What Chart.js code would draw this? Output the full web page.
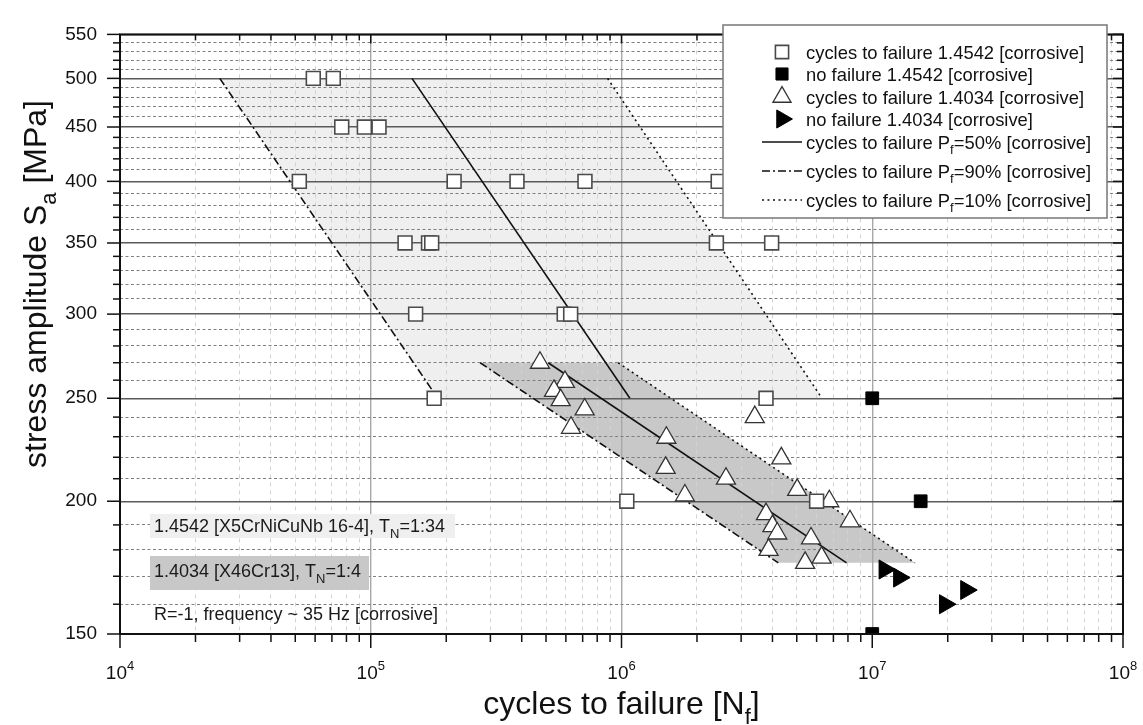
<!DOCTYPE html>
<html>
<head>
<meta charset="utf-8">
<title>S-N curve corrosive</title>
<script src="https://cdn.jsdelivr.net/npm/chart.js@4.4.1/dist/chart.umd.min.js"></script>
<style>
  html, body { margin: 0; padding: 0; background: #fff; }
</style>
</head>
<body>
<canvas id="snChart" width="1143" height="725"></canvas>
<script>
const FONT = '"Liberation Sans", Arial, sans-serif';

// 1.4542 - cycles to failure
const fail4542N = [59000, 70900, 76600, 94300, 107900, 51900, 215000, 383000, 715000, 2430000,
  137000, 170000, 175000, 2390000, 3970000, 151000, 591000, 627000, 179000, 3770000, 1050000, 6000000];
const fail4542S = [500, 500, 450, 450, 450, 400, 400, 400, 400, 400,
  350, 350, 350, 350, 350, 300, 300, 300, 250, 250, 200, 200];
// 1.4542 - run-outs
const runout4542N = [10000000, 15600000, 10000000];
const runout4542S = [250, 200, 150];

// 1.4034 - cycles to failure
const fail4034N = [473000, 595000, 538000, 572000, 713000, 629000, 1510000, 1500000, 1790000, 2610000, 3400000,
  4340000, 5020000, 6740000, 8150000, 3770000, 4000000, 4180000, 3860000, 5700000, 6280000, 5400000];
const fail4034S = [270, 259, 254, 249, 244, 234.5, 229.5, 215, 202.5, 210, 240,
  219.5, 205, 200, 191.5, 194.5, 189.5, 186.5, 180, 184.5, 177, 175];
// 1.4034 - run-outs
const runout4034N = [11200000, 12800000, 19500000, 23700000];
const runout4034S = [172.5, 169.5, 160, 165];

// S-N lines, N at [upper, lower] stress
const lineS4542 = [500, 250];
const p50N4542 = [146000, 1080000];
const p90N4542 = [25000, 185000];
const p10N4542 = [880000, 6300000];
const lineS4034 = [270, 175];
const p50N4034 = [510000, 7900000];
const p90N4034 = [273000, 4220000];
const p10N4034 = [970000, 14800000];

// axes
const xTickValues = [1e4, 2e4, 3e4, 4e4, 5e4, 6e4, 7e4, 8e4, 9e4,
  1e5, 2e5, 3e5, 4e5, 5e5, 6e5, 7e5, 8e5, 9e5,
  1e6, 2e6, 3e6, 4e6, 5e6, 6e6, 7e6, 8e6, 9e6,
  1e7, 2e7, 3e7, 4e7, 5e7, 6e7, 7e7, 8e7, 9e7, 1e8];
const xMajorValues = [1e4, 1e5, 1e6, 1e7, 1e8];
const xMajorLabels = ['10^{4}', '10^{5}', '10^{6}', '10^{7}', '10^{8}'];
const yTickValues = [150, 160, 170, 180, 190, 200, 210, 220, 230, 240, 250, 260, 270, 280, 290, 300,
  310, 320, 330, 340, 350, 360, 370, 380, 390, 400, 410, 420, 430, 440, 450, 460, 470, 480, 490, 500,
  510, 520, 530, 540, 550];
const yMajorValues = [150, 200, 250, 300, 350, 400, 450, 500, 550];
const yMajorLabels = ['150', '200', '250', '300', '350', '400', '450', '500', '550'];

const legendLabels = [
  'cycles to failure 1.4542 [corrosive]',
  'no failure 1.4542 [corrosive]',
  'cycles to failure 1.4034 [corrosive]',
  'no failure 1.4034 [corrosive]',
  'cycles to failure P_{f}=50% [corrosive]',
  'cycles to failure P_{f}=90% [corrosive]',
  'cycles to failure P_{f}=10% [corrosive]'
];
const noteLabels = [
  '1.4542 [X5CrNiCuNb 16-4], T_{N}=1:34',
  '1.4034 [X46Cr13], T_{N}=1:4',
  'R=-1, frequency ~ 35 Hz [corrosive]'
];
const xTitle = 'cycles to failure [N_{f}]';
const yTitle = 'stress amplitude S_{a} [MPa]';

const pts = (xs, ys) => xs.map((v, i) => ({ x: v, y: ys[i] }));
const band = (lo, hi, s) => pts([lo[0], hi[0], hi[1], lo[1], lo[0]], [s[0], s[0], s[1], s[1], s[0]]);

const DASH_DOT = [8, 3, 2, 3];
const DOTTED = [2, 3.5];

function lineSet(label, xs, s, dash) {
  return {
    label: label, data: pts(xs, s), showLine: true, fill: false,
    borderColor: '#111', borderWidth: 1.6, borderDash: dash,
    pointRadius: 0, pointHoverRadius: 0, order: 1
  };
}

const datasets = [
  { label: 'band 1.4034', data: band(p90N4034, p10N4034, lineS4034), showLine: true, fill: 'shape',
    backgroundColor: '#c8c8c8', borderColor: 'transparent', borderWidth: 0, pointRadius: 0, order: 2 },
  { label: 'band 1.4542', data: band(p90N4542, p10N4542, lineS4542), showLine: true, fill: 'shape',
    backgroundColor: '#efefef', borderColor: 'transparent', borderWidth: 0, pointRadius: 0, order: 3 },
  lineSet(legendLabels[4], p50N4542, lineS4542, []),
  lineSet(legendLabels[5], p90N4542, lineS4542, DASH_DOT),
  lineSet(legendLabels[6], p10N4542, lineS4542, DOTTED),
  lineSet('', p50N4034, lineS4034, []),
  lineSet('', p90N4034, lineS4034, DASH_DOT),
  lineSet('', p10N4034, lineS4034, DOTTED),
  { label: legendLabels[0], data: pts(fail4542N, fail4542S), pointStyle: 'rect', pointRadius: 9.8,
    backgroundColor: '#fff', borderColor: '#4a4a4a', borderWidth: 1.6, order: 0 },
  { label: legendLabels[1], data: pts(runout4542N, runout4542S), pointStyle: 'rect', pointRadius: 9,
    backgroundColor: '#000', borderColor: '#000', borderWidth: 1, order: 0 },
  { label: legendLabels[2], data: pts(fail4034N, fail4034S), pointStyle: 'triangle', pointRadius: 11,
    backgroundColor: '#fff', borderColor: '#333', borderWidth: 1.3, order: 0 },
  { label: legendLabels[3], data: pts(runout4034N, runout4034S), pointStyle: 'triangle', pointRadius: 11,
    pointRotation: 90, backgroundColor: '#000', borderColor: '#000', borderWidth: 1, order: 0 }
];

// text with _{sub} and ^{sup}
function richParts(text) {
  const parts = [];
  const re = /([_^])\{([^}]*)\}/g;
  let last = 0, m;
  while ((m = re.exec(text))) {
    if (m.index > last) parts.push({ t: text.slice(last, m.index), k: '' });
    parts.push({ t: m[2], k: m[1] });
    last = re.lastIndex;
  }
  if (last < text.length) parts.push({ t: text.slice(last), k: '' });
  return parts;
}

function drawRich(ctx, text, x, y, size, align) {
  const parts = richParts(text);
  const small = Math.round(size * 0.7);
  let w = 0;
  parts.forEach(p => {
    ctx.font = (p.k ? small : size) + 'px ' + FONT;
    p.w = ctx.measureText(p.t).width;
    w += p.w;
  });
  let cx = align === 'center' ? x - w / 2 : (align === 'right' ? x - w : x);
  ctx.textAlign = 'left';
  ctx.textBaseline = 'alphabetic';
  parts.forEach(p => {
    ctx.font = (p.k ? small : size) + 'px ' + FONT;
    const dy = p.k === '_' ? size * 0.32 : (p.k === '^' ? -size * 0.45 : 0);
    ctx.fillText(p.t, cx, y + dy);
    cx += p.w;
  });
  return w;
}

const decor = {
  id: 'decor',
  afterDraw(chart) {
    const { ctx, chartArea: a, scales: { x, y } } = chart;
    ctx.save();
    const seg = (x1, y1, x2, y2) => { ctx.beginPath(); ctx.moveTo(x1, y1); ctx.lineTo(x2, y2); ctx.stroke(); };

    // annotation boxes
    ctx.fillStyle = '#efefef';
    ctx.fillRect(150, 514, 305, 24);
    ctx.fillStyle = '#c8c8c8';
    ctx.fillRect(150, 556, 219, 34);
    ctx.fillStyle = '#1a1a1a';
    drawRich(ctx, noteLabels[0], 154, 532, 18, 'left');
    drawRich(ctx, noteLabels[1], 154, 577, 18, 'left');
    drawRich(ctx, noteLabels[2], 154, 620, 18, 'left');

    // frame
    ctx.strokeStyle = '#111';
    ctx.lineWidth = 2;
    ctx.strokeRect(a.left, a.top, a.right - a.left, a.bottom - a.top);

    // tick marks
    ctx.lineWidth = 1.5;
    xTickValues.forEach(v => {
      const px = x.getPixelForValue(v);
      const major = xMajorValues.includes(v);
      seg(px, a.bottom, px, a.bottom + (major ? 14 : 8));
      seg(px, a.top, px, a.top + (major ? 9 : 6));
    });
    yTickValues.forEach(v => {
      const py = y.getPixelForValue(v);
      const major = yMajorValues.includes(v);
      seg(a.left - (major ? 13 : 7), py, a.left, py);
      seg(a.right - (major ? 10 : 6), py, a.right, py);
    });

    // x tick labels
    ctx.fillStyle = '#111';
    xMajorValues.forEach((v, i) => {
      drawRich(ctx, xMajorLabels[i], x.getPixelForValue(v), 679, 19, 'center');
    });

    // axis titles
    drawRich(ctx, xTitle, (a.left + a.right) / 2, 714, 32, 'center');
    ctx.save();
    ctx.translate(46, 284);
    ctx.rotate(-Math.PI / 2);
    drawRich(ctx, yTitle, 0, 0, 32, 'center');
    ctx.restore();

    // legend
    ctx.fillStyle = '#fff';
    ctx.fillRect(723, 25, 384, 193);
    ctx.strokeStyle = '#777';
    ctx.lineWidth = 1.5;
    ctx.strokeRect(723, 25, 384, 193);
    const rows = [52, 74, 97, 119, 142, 171, 200];
    const markerSets = [8, 9, 10, 11];
    const lineSets = [2, 3, 4];
    rows.forEach((ry, i) => {
      if (i < 4) {
        const ds = chart.data.datasets[markerSets[i]];
        ctx.fillStyle = ds.backgroundColor;
        ctx.strokeStyle = ds.borderColor;
        ctx.lineWidth = ds.borderWidth;
        ctx.setLineDash([]);
        Chart.helpers.drawPoint(ctx, {
          pointStyle: ds.pointStyle, radius: ds.pointRadius * 0.95,
          rotation: ds.pointRotation || 0, borderWidth: ds.borderWidth
        }, 782, ry);
      } else {
        const ds = chart.data.datasets[lineSets[i - 4]];
        ctx.strokeStyle = ds.borderColor;
        ctx.lineWidth = ds.borderWidth;
        ctx.setLineDash(ds.borderDash);
        seg(762, ry, 802, ry);
        ctx.setLineDash([]);
      }
      ctx.fillStyle = '#111';
      drawRich(ctx, legendLabels[i], 806, ry + 6.5, 18.4, 'left');
    });
    ctx.restore();
  }
};

new Chart(document.getElementById('snChart').getContext('2d'), {
  type: 'scatter',
  data: { datasets: datasets },
  options: {
    responsive: false,
    animation: false,
    events: [],
    layout: { padding: { top: 16, right: 20, left: 0, bottom: 0 } },
    plugins: {
      legend: { display: false },
      tooltip: { enabled: false },
      filler: { propagate: false, drawTime: 'beforeDraw' }
    },
    scales: {
      x: {
        type: 'logarithmic',
        min: 1e4,
        max: 1e8,
        afterBuildTicks: s => { s.ticks = xTickValues.map(v => ({ value: v })); },
        afterFit: s => { s.height = 91; },
        ticks: { display: false, autoSkip: false },
        grid: {
          drawTicks: false,
          color: c => (c.tick && xMajorValues.includes(c.tick.value)) ? '#a8a8a8' : '#d2d2d2',
          lineWidth: c => (c.tick && xMajorValues.includes(c.tick.value)) ? 1.4 : 1
        },
        border: {
          display: false,
          dash: c => (c.tick && !xMajorValues.includes(c.tick.value)) ? [4, 4] : []
        }
      },
      y: {
        type: 'logarithmic',
        min: 150,
        max: 550,
        afterBuildTicks: s => { s.ticks = yTickValues.map(v => ({ value: v })); },
        afterFit: s => { s.width = 120; },
        ticks: {
          autoSkip: false,
          padding: 23,
          color: '#111',
          font: { family: FONT, size: 19 },
          callback: v => {
            const i = yMajorValues.indexOf(v);
            return i >= 0 ? yMajorLabels[i] : '';
          }
        },
        grid: {
          drawTicks: false,
          color: c => (c.tick && yMajorValues.includes(c.tick.value)) ? '#5a5a5a' : '#808080',
          lineWidth: c => (c.tick && yMajorValues.includes(c.tick.value)) ? 1.4 : 1
        },
        border: {
          display: false,
          dash: c => (c.tick && !yMajorValues.includes(c.tick.value)) ? [3, 2.5] : []
        }
      }
    }
  },
  plugins: [decor]
});
</script>
</body>
</html>
